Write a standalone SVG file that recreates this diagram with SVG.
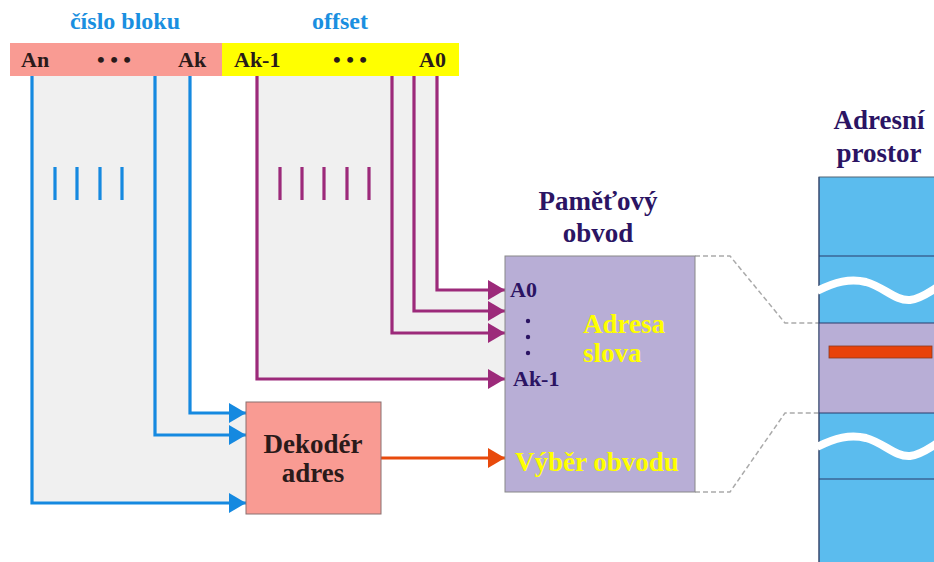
<svg xmlns="http://www.w3.org/2000/svg" width="934" height="562" viewBox="0 0 934 562">
<style>
.t{font-family:"Liberation Serif","Times New Roman",serif;font-weight:bold}
.lab{font-size:24px;fill:#1a8fe0}
.bar{font-size:22px;fill:#2a1a1a}
.ttl{font-size:27px;fill:#2b1463}
.yel{font-size:27px;fill:#ffff00}
.nv{font-size:22px;fill:#2b1463}
.bl{stroke:#1589e0;stroke-width:3.2;fill:none}
.pu{stroke:#9c2a7a;stroke-width:3.2;fill:none}
.or{stroke:#e84a0c;stroke-width:3.2;fill:none}
.dash{stroke:#aaaaaa;stroke-width:1.5;stroke-dasharray:5,3;fill:none}
.hl{stroke:#2b3a6b;stroke-width:1}
.wave{stroke:#ffffff;stroke-width:8;fill:none}
</style>
<defs>
<marker id="ab" markerUnits="userSpaceOnUse" markerWidth="20" markerHeight="22" refX="17" refY="10" orient="auto"><path d="M0,0 L17,10 L0,20 Z" fill="#1589e0"/></marker>
<marker id="ap" markerUnits="userSpaceOnUse" markerWidth="20" markerHeight="22" refX="17" refY="10" orient="auto"><path d="M0,0 L17,10 L0,20 Z" fill="#9c2a7a"/></marker>
<marker id="ao" markerUnits="userSpaceOnUse" markerWidth="20" markerHeight="22" refX="17" refY="10" orient="auto"><path d="M0,0 L17,10 L0,20 Z" fill="#e84a0c"/></marker>
</defs>
<rect width="934" height="562" fill="#ffffff"/>
<!-- gray backgrounds -->
<polygon points="32,76 190,76 190,413 246,413 246,503 32,503" fill="#f0f0f0"/>
<polygon points="257,76 437,76 437,290 505,290 505,379 257,379" fill="#f0f0f0"/>
<!-- header -->
<g id="header">
<text class="t lab" x="125" y="29" text-anchor="middle">číslo bloku</text>
<text class="t lab" x="340" y="29" text-anchor="middle">offset</text>
<rect x="10" y="43" width="212" height="33" fill="#f99b93"/>
<rect x="222" y="43" width="237" height="33" fill="#ffff00"/>
<text class="t bar" x="21" y="67">An</text>
<text class="t bar" x="114" y="67" text-anchor="middle">• • •</text>
<text class="t bar" x="178" y="67">Ak</text>
<text class="t bar" x="234" y="67">Ak-1</text>
<text class="t bar" x="350" y="67" text-anchor="middle">• • •</text>
<text class="t bar" x="419" y="67">A0</text>
</g>
<!-- connectors -->
<g id="connectors">
<path class="bl" d="M190,76 V413 H246" marker-end="url(#ab)"/>
<path class="bl" d="M155,76 V435 H246" marker-end="url(#ab)"/>
<path class="bl" d="M32,76 V503 H246" marker-end="url(#ab)"/>
<path class="pu" d="M437,76 V290 H505" marker-end="url(#ap)"/>
<path class="pu" d="M414,76 V311 H505" marker-end="url(#ap)"/>
<path class="pu" d="M392,76 V333 H505" marker-end="url(#ap)"/>
<path class="pu" d="M257,76 V379 H505" marker-end="url(#ap)"/>
<path class="or" d="M381,458 H505" marker-end="url(#ao)"/>
<path class="dash" d="M695,256 H730 L785,323 H820"/>
<path class="dash" d="M695,492 H730 L785,413 H820"/>
</g>
<!-- bus ticks -->
<g id="ticks">
<path class="bl" d="M55,167 V200 M77,167 V200 M100,167 V200 M122,167 V200"/>
<path class="pu" d="M280,167 V200 M302,167 V200 M324,167 V200 M347,167 V200 M369,167 V200"/>
</g>
<!-- decoder -->
<g id="decoder">
<rect x="246" y="402" width="135" height="112" fill="#f99b93" stroke="#8a7070" stroke-width="1"/>
<text class="t" x="313" y="453" text-anchor="middle" font-size="27" fill="#2a1a1a">Dekodér</text>
<text class="t" x="313" y="482" text-anchor="middle" font-size="27" fill="#2a1a1a">adres</text>
</g>
<!-- memory chip -->
<g id="memory">
<text class="t ttl" x="598" y="210" text-anchor="middle">Paměťový</text>
<text class="t ttl" x="598" y="242" text-anchor="middle">obvod</text>
<rect x="505" y="256" width="190" height="236" fill="#b8aed6" stroke="#888888" stroke-width="1"/>
<text class="t nv" x="510" y="297">A0</text>
<circle cx="528" cy="321" r="2.2" fill="#2b1463"/>
<circle cx="528" cy="337" r="2.2" fill="#2b1463"/>
<circle cx="528" cy="353" r="2.2" fill="#2b1463"/>
<text class="t nv" x="513" y="386">Ak-1</text>
<text class="t yel" x="583" y="333">Adresa</text>
<text class="t yel" x="583" y="362">slova</text>
<text class="t yel" x="515" y="471">Výběr obvodu</text>
</g>
<!-- address space -->
<g id="address-space">
<text class="t ttl" x="879" y="129" text-anchor="middle">Adresní</text>
<text class="t ttl" x="879" y="162" text-anchor="middle">prostor</text>
<rect x="819" y="177" width="120" height="390" fill="#5bbcee" stroke="#556677" stroke-width="1"/>
<rect x="819" y="323" width="120" height="90" fill="#b8aed6"/>
<path class="hl" d="M819,256 H934 M819,323 H934 M819,413 H934 M819,479 H934"/>
<path class="hl" d="M819,177 V562"/>
<path class="wave" d="M817,291 C835,282 850,278 866,282 C884,287 895,301 910,300 C920,299 928,293 936,288"/>
<path class="wave" d="M817,447 C835,438 850,434 866,438 C884,443 895,457 910,456 C920,455 928,449 936,444"/>
<rect x="829" y="346" width="103" height="12" fill="#e8420a" stroke="#8a3a20" stroke-width="0.8"/>
</g>
</svg>
